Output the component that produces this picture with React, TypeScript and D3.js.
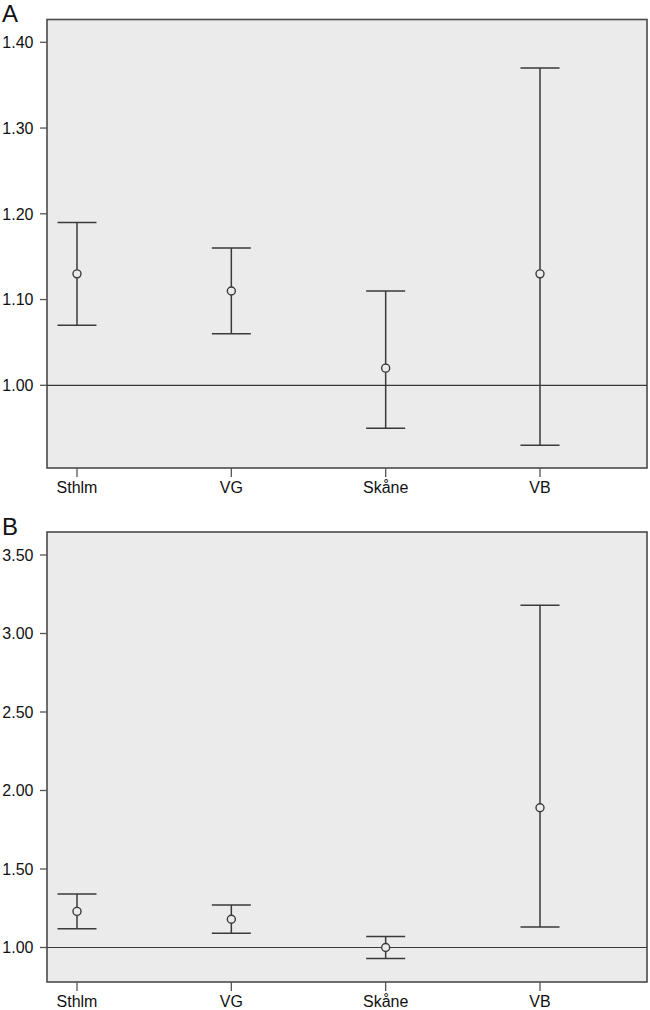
import React from "react";
import * as d3 from "d3";

const categories = ["Sthlm", "VG", "Skåne", "VB"];

const estA = [1.13, 1.11, 1.02, 1.13];
const lowA = [1.07, 1.06, 0.95, 0.93];
const highA = [1.19, 1.16, 1.11, 1.37];
const ticksA = [1.0, 1.1, 1.2, 1.3, 1.4];

const estB = [1.23, 1.18, 1.0, 1.89];
const lowB = [1.12, 1.09, 0.93, 1.13];
const highB = [1.34, 1.27, 1.07, 3.18];
const ticksB = [1.0, 1.5, 2.0, 2.5, 3.0, 3.5];

const referenceValue = 1.0;

const FRAME_LEFT = 47;
const FRAME_RIGHT = 647;
const FONT = "'Liberation Sans', Arial, Helvetica, sans-serif";
const INK = "#3a3a3a";

type PanelProps = {
  label: string;
  est: number[];
  low: number[];
  high: number[];
  ticks: number[];
  frameTop: number;
  frameBottom: number;
  yDomain: [number, number];
  yRange: [number, number];
  labelY: number;
};

function Panel(p: PanelProps) {
  const x = d3.scalePoint<string>().domain(categories).range([77, 540]);
  const y = d3.scaleLinear().domain(p.yDomain).range(p.yRange);
  const fmt = d3.format(".2f");
  const capHalf = 19.5;
  return (
    <g>
      <text x={2} y={p.labelY} fontFamily={FONT} fontSize={24} fill="#111">
        {p.label}
      </text>
      <rect
        x={FRAME_LEFT}
        y={p.frameTop}
        width={FRAME_RIGHT - FRAME_LEFT}
        height={p.frameBottom - p.frameTop}
        fill="#ebebeb"
        stroke="#4a4a4a"
        strokeWidth={1.6}
      />
      {p.ticks.map((t) => (
        <g key={t}>
          <line x1={FRAME_LEFT - 7} x2={FRAME_LEFT} y1={y(t)} y2={y(t)} stroke="#555" strokeWidth={1.3} />
          <text
            x={33.5}
            y={y(t)}
            dy="0.36em"
            textAnchor="end"
            fontFamily={FONT}
            fontSize={16}
            fill="#111"
          >
            {fmt(t)}
          </text>
        </g>
      ))}
      {categories.map((c) => (
        <g key={c}>
          <line
            x1={x(c)}
            x2={x(c)}
            y1={p.frameBottom}
            y2={p.frameBottom + 9}
            stroke="#555"
            strokeWidth={1.3}
          />
          <text
            x={x(c)}
            y={p.frameBottom + 25}
            textAnchor="middle"
            fontFamily={FONT}
            fontSize={16}
            fill="#111"
          >
            {c}
          </text>
        </g>
      ))}
      <line
        x1={FRAME_LEFT}
        x2={FRAME_RIGHT}
        y1={y(referenceValue)}
        y2={y(referenceValue)}
        stroke={INK}
        strokeWidth={1.2}
      />
      {categories.map((c, i) => {
        const cx = x(c) as number;
        return (
          <g key={c} stroke={INK} strokeWidth={1.5} fill="none">
            <line x1={cx} x2={cx} y1={y(p.high[i])} y2={y(p.low[i])} />
            <line x1={cx - capHalf} x2={cx + capHalf} y1={y(p.high[i])} y2={y(p.high[i])} />
            <line x1={cx - capHalf} x2={cx + capHalf} y1={y(p.low[i])} y2={y(p.low[i])} />
            <circle cx={cx} cy={y(p.est[i])} r={4} fill="#ebebeb" strokeWidth={1.4} />
          </g>
        );
      })}
    </g>
  );
}

export default function App() {
  return (
    <div style={{ position: "absolute", left: 0, top: 0 }}>
      <svg width={650} height={1010} style={{ display: "block", background: "#fff" }}>
        <Panel
          label="A"
          est={estA}
          low={lowA}
          high={highA}
          ticks={ticksA}
          frameTop={19.5}
          frameBottom={468}
          yDomain={[1.0, 1.4]}
          yRange={[385.3, 42.3]}
          labelY={22}
        />
        <Panel
          label="B"
          est={estB}
          low={lowB}
          high={highB}
          ticks={ticksB}
          frameTop={532}
          frameBottom={982}
          yDomain={[1.0, 3.5]}
          yRange={[947.5, 555]}
          labelY={535}
        />
      </svg>
    </div>
  );
}
